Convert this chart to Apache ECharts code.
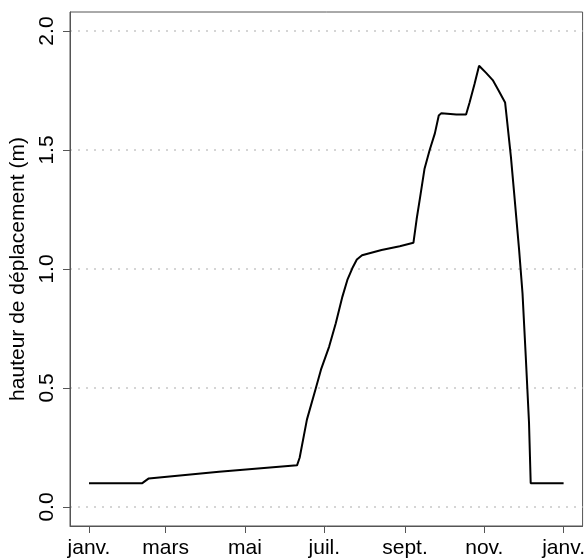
<!DOCTYPE html>
<html>
<head>
<meta charset="utf-8">
<script src="https://cdn.jsdelivr.net/npm/echarts@6/dist/echarts.min.js"></script>
<style>
html,body{margin:0;padding:0;background:#fff;}
#chart{width:588px;height:559px;}
</style>
</head>
<body>
<div id="chart"></div>
<script>
// days since 1 January
var days = [0, 41, 46, 100, 160, 162, 167.6, 174.5, 178.4, 184.7, 189.8, 194.9, 198.7, 202.5, 206, 210, 225, 239, 249.5, 252, 254.6, 258, 262, 266, 269, 271, 282.5, 290, 292.7, 296.5, 300, 305.4, 310.5, 315, 320, 321, 324.5, 327, 330.8, 333.4, 335.9, 338.4, 339.7, 365];
var heights = [0.10, 0.10, 0.12, 0.148, 0.175, 0.207, 0.367, 0.50, 0.577, 0.674, 0.772, 0.884, 0.954, 1.003, 1.04, 1.058, 1.08, 1.096, 1.11, 1.21, 1.30, 1.42, 1.50, 1.57, 1.645, 1.655, 1.649, 1.649, 1.70, 1.777, 1.854, 1.824, 1.794, 1.75, 1.70, 1.65, 1.47, 1.317, 1.079, 0.898, 0.632, 0.354, 0.10, 0.10];
var monthTicks = [0, 59, 120, 181, 243, 304, 365];
var monthLabels = ["janv.", "mars", "mai", "juil.", "sept.", "nov.", "janv."];
var yTicks = [0, 0.5, 1.0, 1.5, 2.0];
var yTitle = "hauteur de déplacement (m)";

var pts = days.map(function (d, i) { return [d, heights[i]]; });
var FONT = "'Liberation Sans', Arial, sans-serif";
var chart = echarts.init(document.getElementById('chart'), null, {renderer: 'canvas'});
chart.setOption({
  animation: false,
  backgroundColor: '#fff',
  grid: {left: 70, top: 12, right: 1, bottom: 32, show: true, borderColor: '#555', borderWidth: 1, containLabel: false},
  xAxis: {
    type: 'value', min: -14.6, max: 379.6,
    axisLine: {show: true, onZero: false, lineStyle: {color: '#555', width: 1}},
    axisTick: {show: true, inside: false, length: 7, customValues: monthTicks, lineStyle: {color: '#555'}},
    axisLabel: {show: true, margin: 12, customValues: monthTicks, color: '#000', fontSize: 21, fontFamily: FONT,
      formatter: function (v) { var i = monthTicks.indexOf(v); return i >= 0 ? monthLabels[i] : ''; }},
    splitLine: {show: false}
  },
  yAxis: {
    type: 'value', min: -0.08, max: 2.08,
    name: yTitle, nameLocation: 'middle', nameGap: 38,
    nameTextStyle: {color: '#000', fontSize: 21, fontFamily: FONT},
    axisLine: {show: true, onZero: false, lineStyle: {color: '#555', width: 1}},
    axisTick: {show: true, inside: false, length: 7, customValues: yTicks, lineStyle: {color: '#555'}},
    axisLabel: {show: true, rotate: 90, margin: 12, customValues: yTicks, color: '#000', fontSize: 21, fontFamily: FONT,
      formatter: function (v) { return v.toFixed(1); }},
    splitLine: {show: true, lineStyle: {color: '#c8c8c8', width: 1.5, type: [2, 6]}}
  },
  series: [{
    type: 'line', data: pts, showSymbol: false, symbol: 'none',
    lineStyle: {color: '#000', width: 2}, silent: true
  }]
});
</script>
</body>
</html>
